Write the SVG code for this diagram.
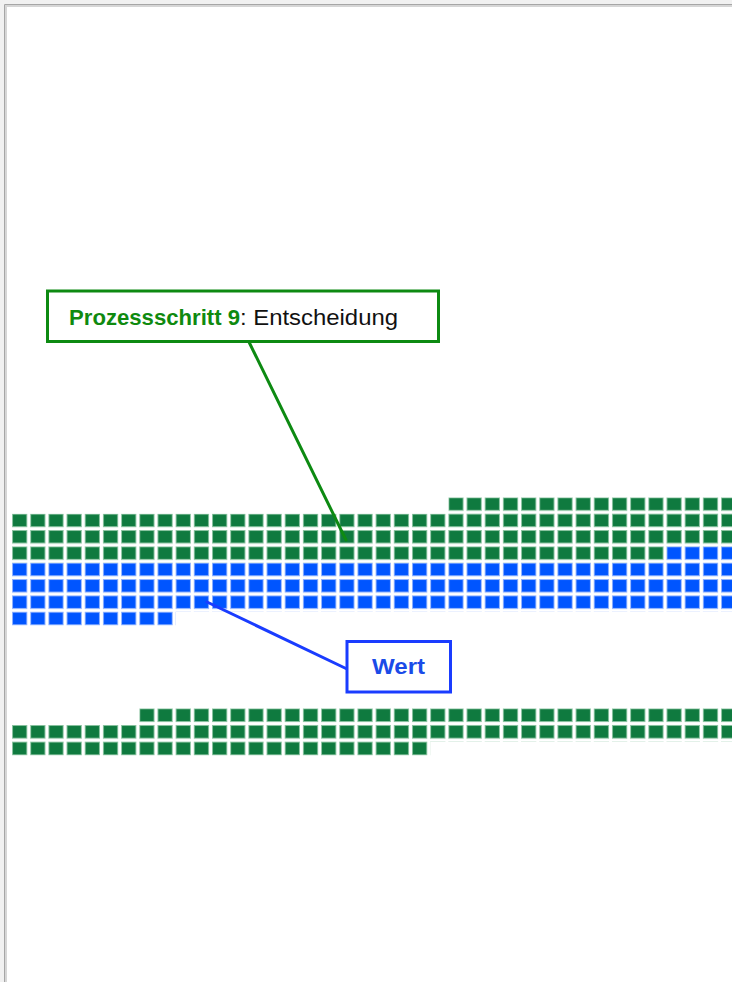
<svg xmlns="http://www.w3.org/2000/svg" width="732" height="982" viewBox="0 0 732 982">
  <style>
    .callout-box { fill: #ffffff; stroke-width: 3; }
    .green-box { stroke: #0d8a12; }
    .blue-box { stroke: #1a3cff; }
    .leader { fill: none; stroke-width: 3; stroke-linecap: round; }
    .green-line { stroke: #0d8a12; }
    .blue-line { stroke: #1a3cff; }
    .label { font-family: "Liberation Sans", Arial, sans-serif; font-size: 22px; }
    .bold { font-weight: bold; }
  </style>
  <defs>
    <!-- unit cells of the waffle grid: one coloured square per tile -->
    <pattern id="cell-green-a" patternUnits="userSpaceOnUse" x="12" y="497.3" width="18.18" height="16.35">
      <rect x="0.5" y="0.5" width="14.3" height="12.6" fill="#0f7a3f" stroke="#8cc4a2" stroke-width="1"/>
    </pattern>
    <pattern id="cell-blue-a" patternUnits="userSpaceOnUse" x="12" y="497.3" width="18.18" height="16.35">
      <rect x="0.5" y="0.5" width="14.3" height="12.6" fill="#0055ff" stroke="#8fb2ff" stroke-width="1"/>
    </pattern>
    <pattern id="cell-green-b" patternUnits="userSpaceOnUse" x="12" y="708.3" width="18.18" height="16.65">
      <rect x="0.5" y="0.5" width="14.3" height="12.8" fill="#0f7a3f" stroke="#8cc4a2" stroke-width="1"/>
    </pattern>
  </defs>

  <!-- window frame -->
  <rect x="0" y="0" width="732" height="982" fill="#f1f1f1"/>
  <rect x="4" y="4" width="740" height="990" fill="#ffffff"/>
  <path d="M4.5 982 V4.5 H732" fill="none" stroke="#a6a6a6" stroke-width="1"/>
  <path d="M6 982 V6 H732" fill="none" stroke="#d6d6d6" stroke-width="2"/>

  <!-- upper waffle block -->
  <g id="waffle-upper">
    <rect x="448.32" y="497.3" width="290.88" height="16.35" fill="url(#cell-green-a)"/>
    <rect x="12" y="513.65" width="727.2" height="32.7" fill="url(#cell-green-a)"/>
    <rect x="12" y="546.35" width="654.48" height="16.35" fill="url(#cell-green-a)"/>
    <rect x="666.48" y="546.35" width="72.72" height="16.35" fill="url(#cell-blue-a)"/>
    <rect x="12" y="562.7" width="727.2" height="49.05" fill="url(#cell-blue-a)"/>
    <rect x="12" y="611.75" width="163.62" height="14" fill="url(#cell-blue-a)"/>
  </g>

  <!-- lower waffle block -->
  <g id="waffle-lower">
    <rect x="139.26" y="708.3" width="599.94" height="16.65" fill="url(#cell-green-b)"/>
    <rect x="12" y="724.95" width="727.2" height="16.65" fill="url(#cell-green-b)"/>
    <rect x="12" y="741.6" width="418.14" height="14" fill="url(#cell-green-b)"/>
  </g>

  <!-- leader lines -->
  <g id="connectors">
    <line class="leader green-line" x1="249" y1="342" x2="346" y2="540"/>
    <line class="leader blue-line" x1="207" y1="602" x2="347" y2="669"/>
  </g>

  <g id="callout-step9">
    <rect class="callout-box green-box" x="47.5" y="291" width="391" height="50.5"/>
    <text class="label" y="324.7">
      <tspan class="bold" x="69" fill="#0f8a0f" textLength="171" lengthAdjust="spacingAndGlyphs">Prozessschritt 9</tspan><tspan x="240" fill="#111111" textLength="158" lengthAdjust="spacingAndGlyphs">: Entscheidung</tspan>
    </text>
  </g>

  <g id="callout-wert">
    <rect class="callout-box blue-box" x="347" y="641.5" width="103.5" height="50.5"/>
    <text class="label bold" x="372" y="674.3" fill="#1a4be8" textLength="53" lengthAdjust="spacingAndGlyphs">Wert</text>
  </g>
</svg>
